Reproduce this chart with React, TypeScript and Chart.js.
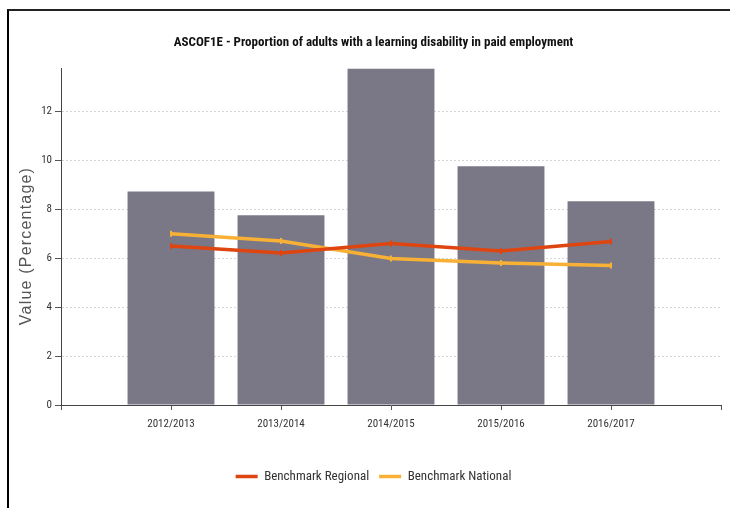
import React, { useEffect, useRef } from "react";
import { Chart, registerables } from "chart.js";

Chart.register(...registerables);

const categories = ["", "2012/2013", "2013/2014", "2014/2015", "2015/2016", "2016/2017", ""];
const barValues = [null, 8.73, 7.76, 13.76, 9.76, 8.33, null];
const regionalValues = [null, 6.5, 6.22, 6.6, 6.3, 6.69, null];
const nationalValues = [null, 7.0, 6.71, 5.99, 5.81, 5.7, null];
const yTickStep = 2;
const yMax = 13.76;
const yTitle = "Value (Percentage)";

const COND = "Roboto, 'Liberation Sans', sans-serif";

const yTitlePlugin = {
  id: "yTitleSpaced",
  afterDraw(chart: any) {
    const ctx = chart.ctx as CanvasRenderingContext2D;
    ctx.save();
    (ctx as any).letterSpacing = "1.2px";
    ctx.font = "16px 'Liberation Sans', Arial, sans-serif";
    ctx.fillStyle = "#555";
    ctx.textAlign = "center";
    ctx.textBaseline = "middle";
    ctx.translate(27, 246);
    ctx.rotate(-Math.PI / 2);
    ctx.fillText(yTitle, 0, 0);
    ctx.restore();
  },
};

export default function App() {
  const ref = useRef<HTMLCanvasElement | null>(null);
  useEffect(() => {
    if (!ref.current) return;
    const chart = new Chart(ref.current, {
      type: "bar",
      data: {
        labels: categories,
        datasets: [
          {
            type: "line",
            label: "Benchmark Regional",
            data: regionalValues,
            borderColor: "#de4510",
            backgroundColor: "#de4510",
            borderWidth: 3.5,
            pointStyle: "line",
            pointRotation: 90,
            pointRadius: 3,
            pointBorderWidth: 2,
            order: 0,
          },
          {
            type: "line",
            label: "Benchmark National",
            data: nationalValues,
            borderColor: "#f8b135",
            backgroundColor: "#f8b135",
            borderWidth: 3.5,
            pointStyle: "line",
            pointRotation: 90,
            pointRadius: 3,
            pointBorderWidth: 2,
            order: 1,
          },
          {
            type: "bar",
            label: "Value",
            data: barValues,
            backgroundColor: "#7a7887",
            categoryPercentage: 1,
            barPercentage: 0.79,
            order: 2,
          },
        ],
      },
      plugins: [yTitlePlugin],
      options: {
        animation: false,
        responsive: false,
        maintainAspectRatio: false,
        layout: { padding: { left: 26, right: 9, top: 0, bottom: 15 } },
        plugins: {
          tooltip: { enabled: false },
          title: {
            display: true,
            text: "ASCOF1E - Proportion of adults with a learning disability in paid employment",
            color: "#111",
            font: { family: COND, size: 13, weight: "condensed bold" as any },
            padding: { top: 34.7, bottom: 18.2 },
          },
          legend: {
            display: true,
            position: "bottom",
            labels: {
              color: "#333",
              font: { family: COND, size: 13, weight: "condensed" as any },
              usePointStyle: true,
              pointStyle: "line",
              pointStyleWidth: 22,
              padding: 10,
              generateLabels: (ch: any) =>
                Chart.defaults.plugins.legend.labels
                  .generateLabels(ch)
                  .filter((it: any) => it.text !== "Value")
                  .map((it: any) => ({ ...it, rotation: 0, pointStyle: "line", lineWidth: 3.5 })),
            },
          },
        },
        scales: {
          x: {
            offset: false,
            afterFit: (s: any) => {
              s.height = 55;
            },
            grid: { offset: false, drawOnChartArea: false, drawTicks: true, tickLength: 5, tickColor: "#555" },
            border: { display: true, color: "#444", width: 1 },
            ticks: {
              color: "#333",
              font: { family: COND, size: 11, weight: "condensed" as any },
              padding: 8,
              autoSkip: false,
              maxRotation: 0,
            },
          },
          y: {
            min: 0,
            max: yMax,
            afterFit: (s: any) => {
              s.width = 35;
            },
            grid: { color: "#d6d6d6", drawTicks: true, tickLength: 6, tickColor: "#555" },
            border: { display: true, color: "#444", width: 1, dash: [2, 2] },
            ticks: {
              stepSize: yTickStep,
              includeBounds: false,
              color: "#333",
              font: { family: COND, size: 11, weight: "condensed" as any },
              padding: 3,
            },
          },
        },
      },
    });
    return () => chart.destroy();
  }, []);

  return (
    <div style={{ position: "absolute", left: 0, top: 0, width: 730, height: 508, overflow: "hidden", background: "#fff" }}>
      <canvas ref={ref} width={730} height={508} style={{ position: "absolute", left: 0, top: 0, width: 730, height: 508 }} />
      <div
        style={{
          position: "absolute",
          left: 7,
          top: 9,
          width: 760,
          height: 560,
          borderLeft: "2px solid #000",
          borderTop: "2px solid #222",
          pointerEvents: "none",
        }}
      />
    </div>
  );
}
